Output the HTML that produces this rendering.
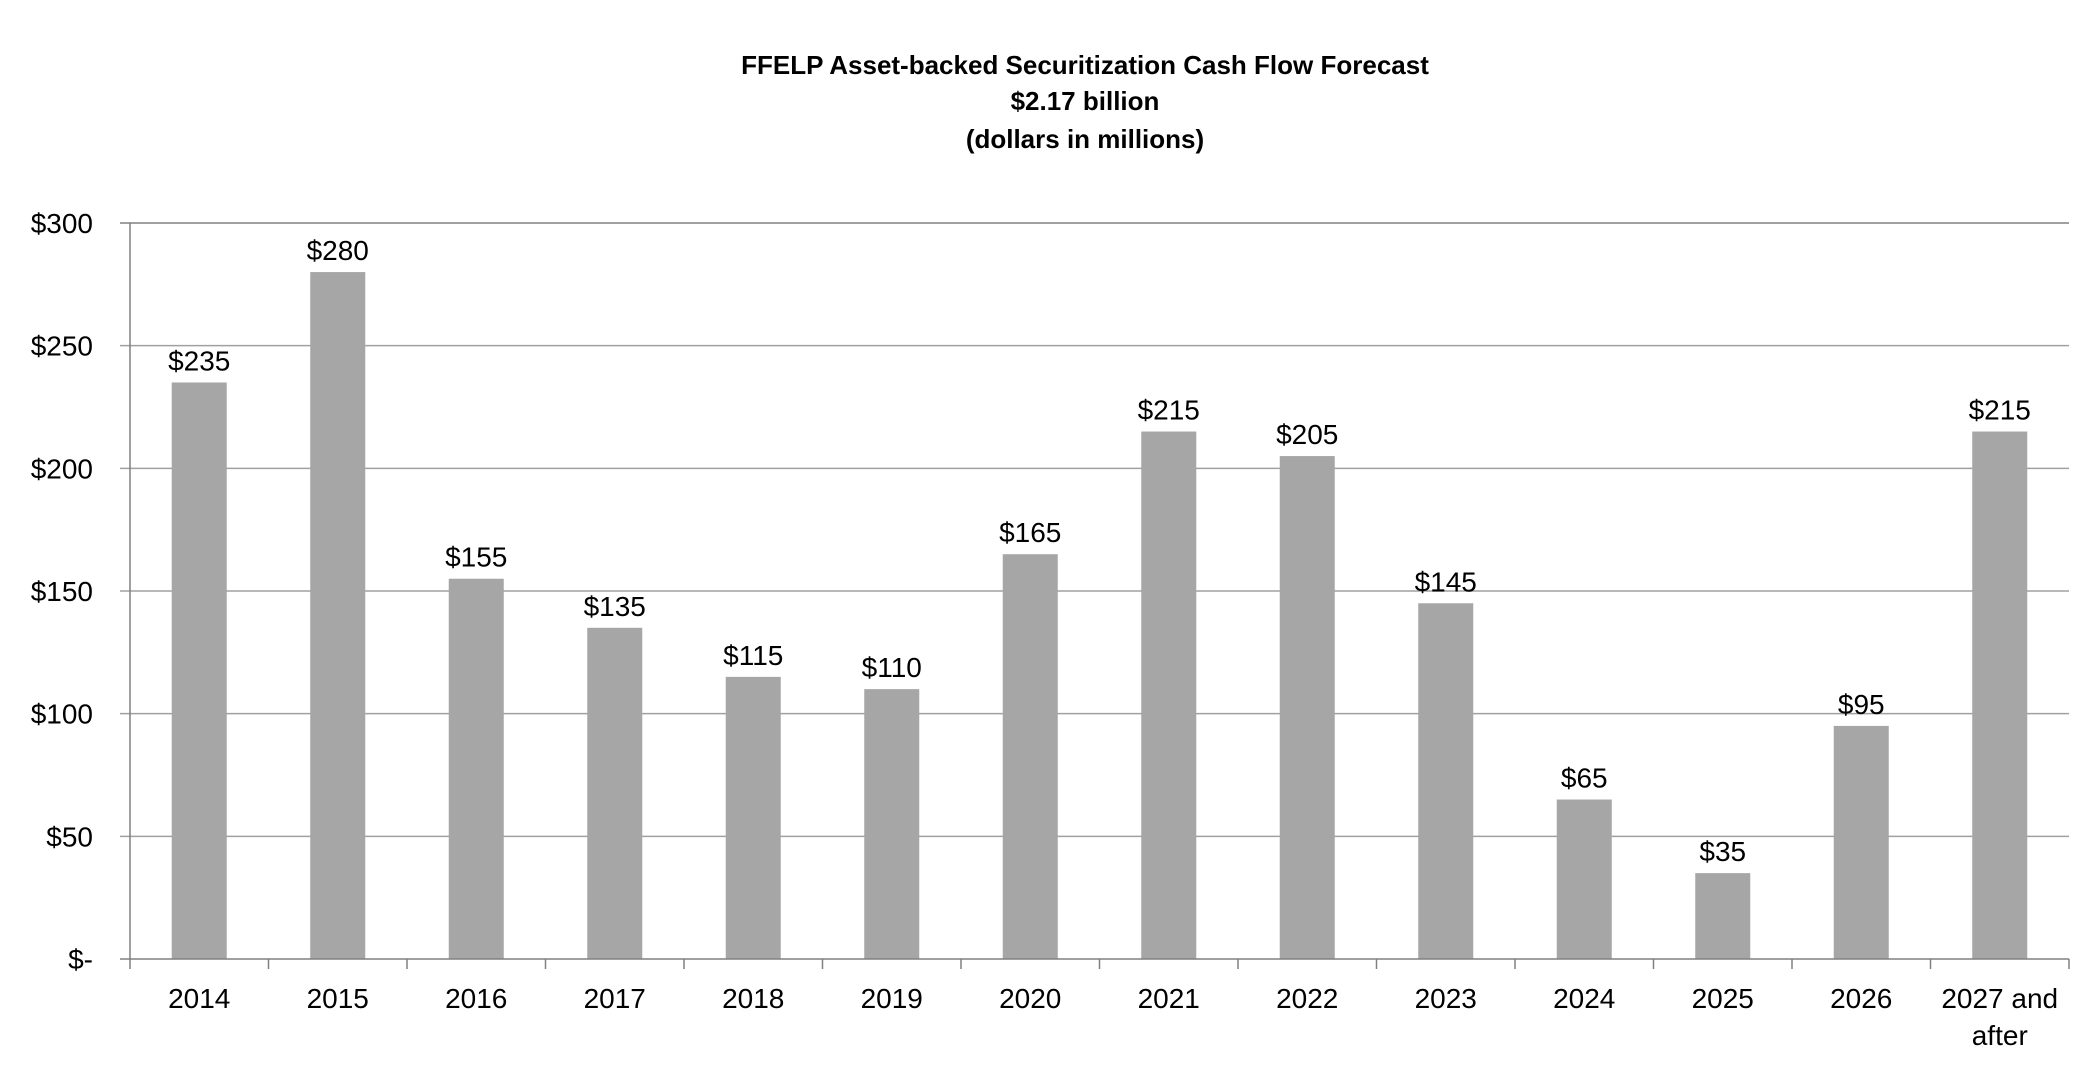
<!DOCTYPE html>
<html><head><meta charset="utf-8"><style>
body{margin:0;background:#fff;}
svg{display:block;font-family:"Liberation Sans",sans-serif;}
</style></head><body>
<svg id="chart" width="2100" height="1068">
<g font-weight="bold" font-size="26" text-anchor="middle" fill="#000">
<text x="1085" y="74">FFELP Asset-backed Securitization Cash Flow Forecast</text>
<text x="1085" y="110">$2.17 billion</text>
<text x="1085" y="148">(dollars in millions)</text>
</g>
<g id="grid"></g><g id="bars"></g><g id="axes"></g>
</svg>
<script>
const categories=["2014","2015","2016","2017","2018","2019","2020","2021","2022","2023","2024","2025","2026","2027 and|after"];
const values=[235,280,155,135,115,110,165,215,205,145,65,35,95,215];
const ticks=[0,50,100,150,200,250,300];
const tickLabels=["$-","$50","$100","$150","$200","$250","$300"];
const NS="http://www.w3.org/2000/svg";
const L=130,R=2069,T=223,B=959,maxV=300;
const y=v=>B-(v/maxV)*(B-T);
const step=(R-L)/categories.length;
const x=i=>L+step*(i+0.5);
function mk(tag,attrs,parent){const e=document.createElementNS(NS,tag);for(const k in attrs)e.setAttribute(k,attrs[k]);parent.appendChild(e);return e;}
const grid=document.getElementById('grid'),bars=document.getElementById('bars'),axes=document.getElementById('axes');
ticks.forEach((t,i)=>{
 if(t>0){const g=mk('line',{x1:L-10,x2:R,y1:y(t),y2:y(t),stroke:t==300?'#808080':'#a0a0a0','stroke-width':1.5},grid);
 
 }
 const tl=mk('text',{x:93,y:y(t)+10,'text-anchor':'end','font-size':28,fill:'#000'},axes);
 tl.textContent=tickLabels[i];
 
 
});
values.forEach((v,i)=>{
 const bw=55;
 const r=mk('rect',{x:x(i)-bw/2,y:y(v),width:bw,height:B-y(v),fill:'#a6a6a6'},bars);
 
 
 const lb=mk('text',{x:x(i),y:y(v)-12,'text-anchor':'middle','font-size':28,fill:'#000'},bars);
 lb.textContent='$'+v;
 
 
 const parts=categories[i].split('|');
 parts.forEach((p,j)=>{
  const c=mk('text',{x:x(i),y:1008+j*37,'text-anchor':'middle','font-size':28,fill:'#000'},axes);
  c.textContent=p;
  
  
 });
});
const ya=mk('line',{x1:L,x2:L,y1:T,y2:B,stroke:'#808080','stroke-width':1.5},axes);


const xa=mk('line',{x1:L-10,x2:R,y1:B,y2:B,stroke:'#808080','stroke-width':1.5},axes);


for(let i=0;i<=categories.length;i++){
 const tk=mk('line',{x1:L+step*i,x2:L+step*i,y1:B,y2:B+10,stroke:'#808080','stroke-width':1.5},axes);
 
 
}
</script>
</body></html>
